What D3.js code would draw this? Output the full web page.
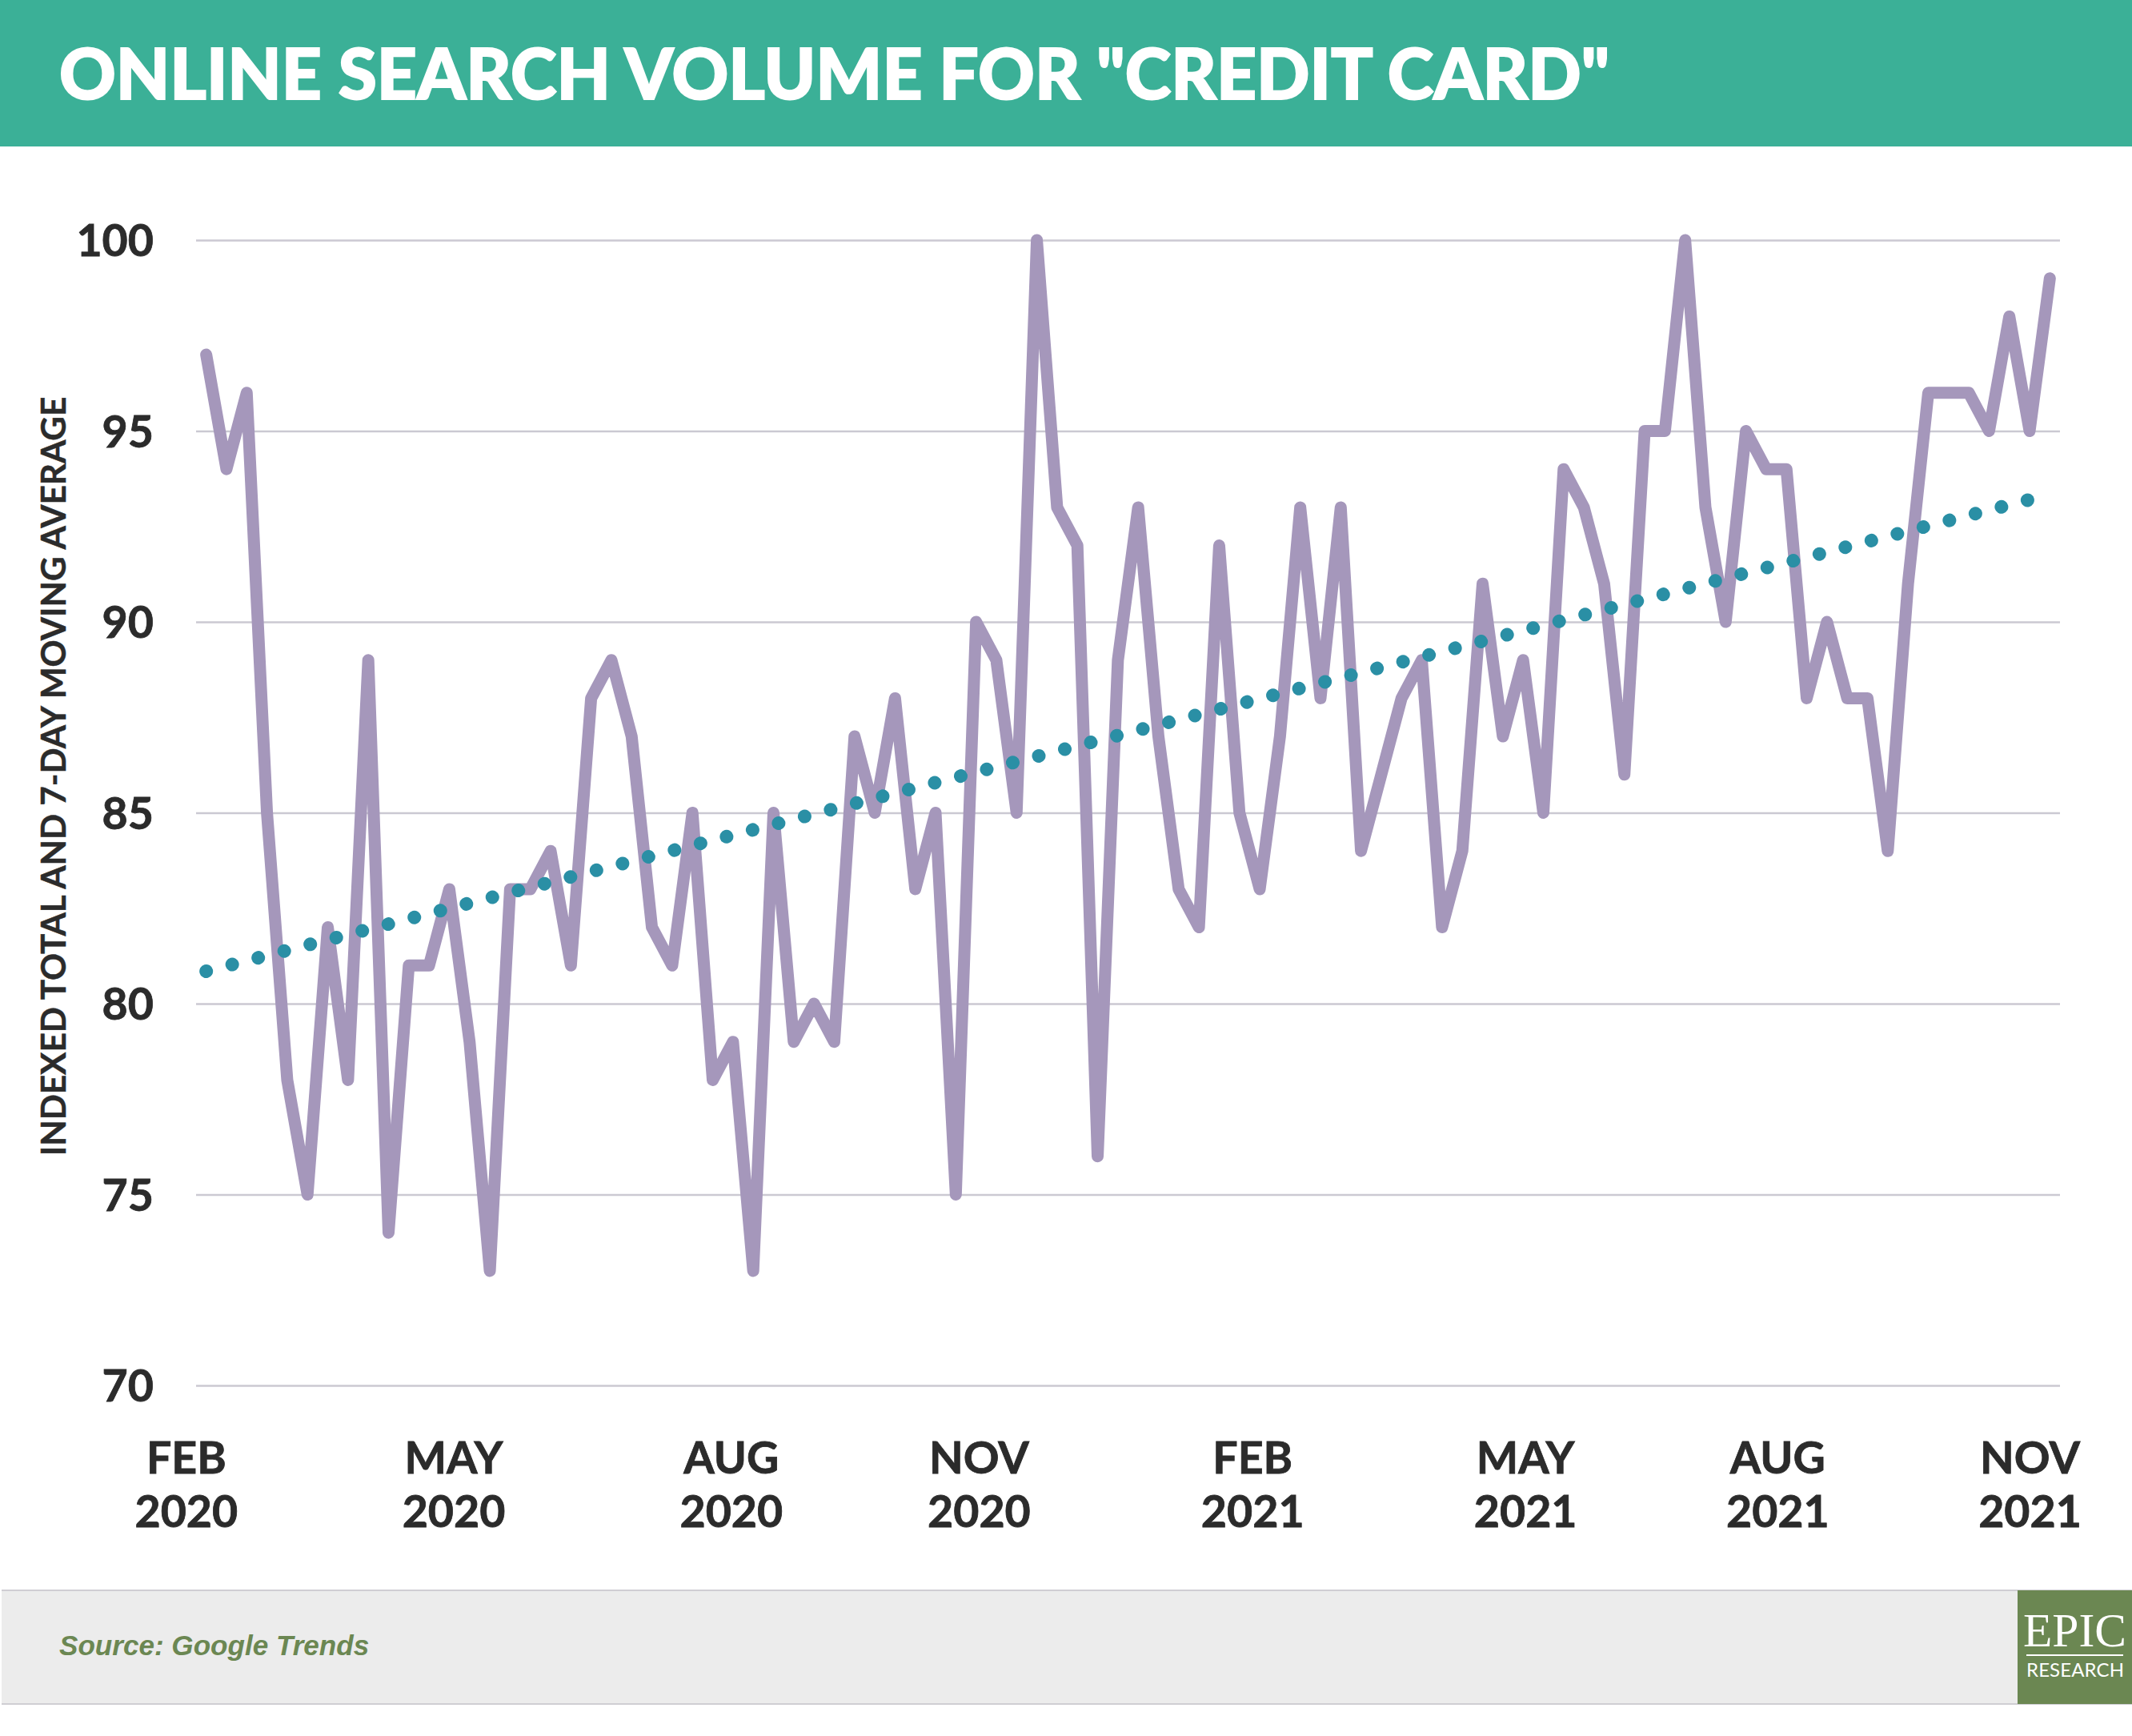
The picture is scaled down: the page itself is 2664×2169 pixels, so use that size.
<!DOCTYPE html>
<html><head><meta charset="utf-8">
<script src="https://d3js.org/d3.v7.min.js"></script>
<style>html,body{margin:0;padding:0;background:#fff}svg{display:block}</style>
</head><body><div id="chart"></div>
<script>
const searchVolume = [97,94,96,85,78,75,82,78,89,74,
81,81,83,79,73,83,83,84,81,88,
89,87,82,81,85,78,79,73,85,79,
80,79,87,85,88,83,85,75,90,89,
85,100,93,92,76,89,93,87,83,82,
92,85,83,87,93,88,93,84,86,88,
89,82,84,91,87,89,85,94,93,91,
86,95,95,100,93,90,95,94,94,88,
90,88,88,84,91,96,96,96,95,98,
95,99];
const trendWeeks = [0, 91];
const trendValues = [80.85, 93.34];
const yTicks = [70,75,80,85,90,95,100];
const xTickWeeks = [-1, 12.2, 25.9, 38.13, 51.63, 65.1, 77.55, 90];
const xTickMonths = ["FEB","MAY","AUG","NOV","FEB","MAY","AUG","NOV"];
const xTickYears = ["2020","2020","2020","2020","2021","2021","2021","2021"];
const titleText = 'ONLINE SEARCH VOLUME FOR "CREDIT CARD"';
const yAxisLabel = "INDEXED TOTAL AND 7-DAY MOVING AVERAGE";
const sourceText = "Source: Google Trends";

const W = 2664, H = 2169;
const svg = d3.select("#chart").append("svg").attr("width", W).attr("height", H).attr("viewBox", `0 0 ${W} ${H}`);
const lato = "Lato, 'Open Sans', sans-serif";
const ink = "#2b2b2b";

svg.append("rect").attr("width", W).attr("height", H).attr("fill", "#fff");
svg.append("rect").attr("width", W).attr("height", 183).attr("fill", "#3BB097");
svg.append("text").attr("x", 74).attr("y", 124).attr("fill", "#fff").attr("stroke", "#fff").attr("stroke-width", 2)
  .attr("font-family", lato).attr("font-weight", 900).attr("font-size", 87.3).text(titleText);

const x = d3.scaleLinear().domain([-0.5, 91.5]).range([245, 2574]);
const y = d3.scaleLinear().domain([70, 100]).range([1731, 300]);

// grid
svg.append("g").call(d3.axisLeft(y).tickValues(yTicks).tickSize(-(2574-245)).tickFormat(""))
  .attr("transform", "translate(245,0)")
  .call(g => { g.select(".domain").remove(); g.selectAll("line").attr("stroke", "#cbc9d2").attr("stroke-width", 2.5); });

// y axis
svg.append("g").attr("transform", "translate(192,1)")
  .call(d3.axisLeft(y).tickValues(yTicks).tickSize(0).tickPadding(0))
  .call(g => { g.select(".domain").remove();
    g.selectAll("text").attr("font-family", lato).attr("font-weight", 700).attr("font-size", 55.5).attr("fill", ink)
      .attr("stroke", ink).attr("stroke-width", 0.8).attr("dy", "0.34em"); });

// x axis
const xAxis = svg.append("g").attr("transform", "translate(0,1841)")
  .call(d3.axisBottom(x).tickValues(xTickWeeks).tickSize(0).tickPadding(0).tickFormat(""));
xAxis.select(".domain").remove();
xAxis.selectAll(".tick").each(function(d, i) {
  const t = d3.select(this).select("text").attr("font-family", lato).attr("font-weight", 700)
    .attr("font-size", 55.5).attr("fill", ink).attr("stroke", ink).attr("stroke-width", 0.8).attr("y", 0).attr("dy", 0);
  t.append("tspan").attr("x", 0).attr("y", 0).text(xTickMonths[i]);
  t.append("tspan").attr("x", 0).attr("y", 67).text(xTickYears[i]);
});

svg.append("text").attr("transform", "translate(82,970) rotate(-90)").attr("text-anchor", "middle")
  .attr("font-family", lato).attr("font-weight", 700).attr("font-size", 42.2).attr("fill", ink).attr("stroke", ink).attr("stroke-width", 0.5).text(yAxisLabel);

// lines
const line = d3.line().x((d, i) => x(i)).y(d => y(d));
svg.append("path").datum(searchVolume).attr("d", line).attr("fill", "none")
  .attr("stroke", "#A597BB").attr("stroke-width", 15).attr("stroke-linejoin", "round").attr("stroke-linecap", "round");
const trendLine = d3.line().x((d, i) => x(trendWeeks[i])).y(d => y(d));
svg.append("path").datum(trendValues).attr("d", trendLine).attr("fill", "none")
  .attr("stroke", "#2A8FA5").attr("stroke-width", 17).attr("stroke-linecap", "round").attr("stroke-dasharray", "0.01 33.57");

// footer
svg.append("rect").attr("x", 2).attr("y", 1987).attr("width", W-2).attr("height", 142).attr("fill", "#ececec");
svg.append("line").attr("x1", 2).attr("x2", W).attr("y1", 1987).attr("y2", 1987).attr("stroke", "#cfced3").attr("stroke-width", 2);
svg.append("line").attr("x1", 2).attr("x2", W).attr("y1", 2129).attr("y2", 2129).attr("stroke", "#cfced3").attr("stroke-width", 2);
svg.append("text").attr("x", 74).attr("y", 2068).attr("fill", "#6b8752")
  .attr("font-family", "'Liberation Sans', Arial, sans-serif").attr("font-weight", 700).attr("font-style", "italic").attr("font-size", 35.1).text(sourceText);
svg.append("rect").attr("x", 2521).attr("y", 1987).attr("width", 143).attr("height", 142).attr("fill", "#6b8752");
svg.append("text").attr("x", 2528).attr("y", 2057).attr("fill", "#fff").attr("font-family", "'Liberation Serif', serif")
  .attr("font-size", 60).attr("textLength", 129).attr("lengthAdjust", "spacingAndGlyphs").text("EPIC");
svg.append("line").attr("x1", 2532).attr("x2", 2653).attr("y1", 2068).attr("y2", 2068).attr("stroke", "#fff").attr("stroke-width", 2);
svg.append("text").attr("x", 2532).attr("y", 2095).attr("fill", "#fff").attr("font-family", lato)
  .attr("font-size", 24).attr("textLength", 122).attr("lengthAdjust", "spacing").text("RESEARCH");
</script></body></html>
